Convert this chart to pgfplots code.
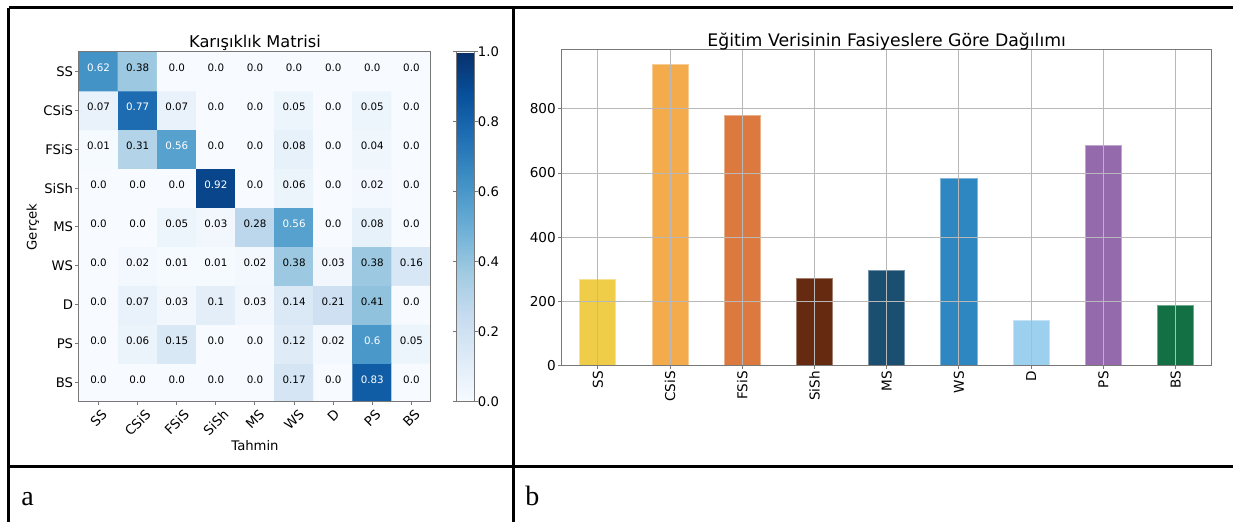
\documentclass[border=0pt]{standalone}
\usepackage{pgfplots}
\pgfplotsset{compat=1.18}
\usepackage{pgfplotstable}
\usepackage{fontspec}
\setmainfont{DejaVu Sans}
\newfontfamily\serifa{Liberation Serif}
\newcommand{\rl}[1]{\rotatebox{45}{#1}}
\newcommand{\rv}[1]{\rotatebox{90}{#1}}
\newcommand{\fs}[1]{\fontsize{#1}{#1}\selectfont}
\definecolor{cSS}{RGB}{240,205,72}
\definecolor{cCSiS}{RGB}{243,171,75}
\definecolor{cFSiS}{RGB}{220,121,62}
\definecolor{cSiSh}{RGB}{102,42,16}
\definecolor{cMS}{RGB}{27,79,114}
\definecolor{cWS}{RGB}{46,135,192}
\definecolor{cD}{RGB}{157,208,238}
\definecolor{cPS}{RGB}{149,106,172}
\definecolor{cBS}{RGB}{19,112,68}
\definecolor{spine}{RGB}{120,120,120}
\pgfplotsset{
  colormap={mblues}{rgb255=(247,251,255) rgb255=(222,235,247) rgb255=(198,219,239) rgb255=(158,202,225) rgb255=(107,174,214) rgb255=(66,146,198) rgb255=(33,113,181) rgb255=(8,81,156) rgb255=(8,48,107)}
}
\pgfplotstableread{
x y c w
0 0 0.0 0
1 0 0.0 0
2 0 0.0 0
3 0 0.0 0
4 0 0.0 0
5 0 0.17 0
6 0 0.0 0
7 0 0.83 1
8 0 0.0 0
0 1 0.0 0
1 1 0.06 0
2 1 0.15 0
3 1 0.0 0
4 1 0.0 0
5 1 0.12 0
6 1 0.02 0
7 1 0.6 1
8 1 0.05 0
0 2 0.0 0
1 2 0.07 0
2 2 0.03 0
3 2 0.1 0
4 2 0.03 0
5 2 0.14 0
6 2 0.21 0
7 2 0.41 0
8 2 0.0 0
0 3 0.0 0
1 3 0.02 0
2 3 0.01 0
3 3 0.01 0
4 3 0.02 0
5 3 0.38 0
6 3 0.03 0
7 3 0.38 0
8 3 0.16 0
0 4 0.0 0
1 4 0.0 0
2 4 0.05 0
3 4 0.03 0
4 4 0.28 0
5 4 0.56 1
6 4 0.0 0
7 4 0.08 0
8 4 0.0 0
0 5 0.0 0
1 5 0.0 0
2 5 0.0 0
3 5 0.92 1
4 5 0.0 0
5 5 0.06 0
6 5 0.0 0
7 5 0.02 0
8 5 0.0 0
0 6 0.01 0
1 6 0.31 0
2 6 0.56 1
3 6 0.0 0
4 6 0.0 0
5 6 0.08 0
6 6 0.0 0
7 6 0.04 0
8 6 0.0 0
0 7 0.07 0
1 7 0.77 1
2 7 0.07 0
3 7 0.0 0
4 7 0.0 0
5 7 0.05 0
6 7 0.0 0
7 7 0.05 0
8 7 0.0 0
0 8 0.62 1
1 8 0.38 0
2 8 0.0 0
3 8 0.0 0
4 8 0.0 0
5 8 0.0 0
6 8 0.0 0
7 8 0.0 0
8 8 0.0 0
}\cmdata
\begin{document}
\begin{tikzpicture}
\path[use as bounding box] (0,0) rectangle (616.5pt,-261pt);
% ---------- heatmap ----------
\begin{axis}[
  at={(39.5pt,-26pt)}, anchor=north west,
  scale only axis, width=176pt, height=175pt,
  xmin=-0.5, xmax=8.5, ymin=-0.5, ymax=8.5,
  colormap name=mblues, point meta min=0, point meta max=1,
  axis line style={spine, line width=0.5pt},
  tick style={spine, line width=0.5pt},
  tick align=outside, major tick length=1.75pt,
  tick pos=left,
  xtick={0,...,8}, ytick={0,...,8},
  xticklabels={\rl{SS},\rl{CSiS},\rl{FSiS},\rl{SiSh},\rl{MS},\rl{WS},\rl{D},\rl{PS},\rl{BS}},
  yticklabels={BS,PS,D,WS,MS,SiSh,FSiS,CSiS,SS},
  xticklabel style={anchor=north, inner sep=0pt, yshift=-1.5pt},
  yticklabel style={anchor=east, inner sep=0pt, xshift=-1pt},
  tick label style={font=\fs{6.6}},
  title={Karışıklık Matrisi},
  title style={font=\fs{8.1}, at={(0.5,1)}, anchor=base, yshift=-4pt},
  xlabel={Tahmin},
  xlabel style={font=\fs{6.6}, at={(axis description cs:0.5,-0.1257)}, anchor=center},
  ylabel={Gerçek},
  ylabel style={font=\fs{6.6}, at={(axis description cs:-0.1307,0.5)}, anchor=center},
  colorbar,
  colorbar style={
    at={(parent axis.north east)}, anchor=north west, xshift=4pt,
    width=9.15pt,
    axis line style={spine, line width=0.5pt},
    tick style={spine, line width=0.5pt},
    tick align=outside, major tick length=1.6pt,
    ytick={0,0.2,0.4,0.6,0.8,1},
    yticklabels={0.0,0.2,0.4,0.6,0.8,1.0},
    yticklabel style={font=\fs{6.6}, anchor=west, inner sep=0pt, xshift=0pt},
  },
  axis on top,
]
\addplot[matrix plot*, mesh/cols=9, point meta=explicit] table[x=x,y=y,meta=c]{\cmdata};
\addplot[only marks, mark=text, text mark={}, mark options={opacity=0},
  point meta=explicit symbolic,
  visualization depends on={\thisrow{w} \as \wf},
  nodes near coords={\ifdim\wf pt>0.5pt\textcolor{white}{\pgfplotspointmeta}\else\pgfplotspointmeta\fi},
  nodes near coords style={anchor=center, font=\fs{5.15}, inner sep=0pt, yshift=1.6pt, opacity=1, text opacity=1}]
  table[x=x,y=y,meta=c]{\cmdata};
\end{axis}
% ---------- bar chart ----------
\begin{axis}[
  at={(280.85pt,-24.65pt)}, anchor=north west,
  scale only axis, width=325pt, height=158pt,
  xmin=-0.5, xmax=8.5, ymin=0, ymax=986,
  axis line style={spine, line width=0.5pt},
  tick style={spine, line width=0.5pt},
  tick align=outside, major tick length=1.75pt,
  tick pos=left,
  xtick={0,...,8},
  xticklabels={\rv{SS},\rv{CSiS},\rv{FSiS},\rv{SiSh},\rv{MS},\rv{WS},\rv{D},\rv{PS},\rv{BS}},
  ytick={0,200,400,600,800},
  yticklabels={0,200,400,600,800},
  xticklabel style={anchor=north, inner sep=0pt, yshift=-1pt},
  yticklabel style={anchor=east, inner sep=0pt, xshift=-1pt},
  tick label style={font=\fs{6.8}},
  grid=major, grid style={black!28, line width=0.5pt},
  title={Eğitim Verisinin Fasiyeslere Göre Dağılımı},
  title style={font=\fs{8.65}, at={(0.5,1)}, anchor=base, yshift=-4.6pt},
  axis on top,
]
\addplot[ybar, bar width=0.5, bar shift=0pt, fill=cSS, draw=cSS!60!white, line width=0.4pt] coordinates {(0,267)};
\addplot[ybar, bar width=0.5, bar shift=0pt, fill=cCSiS, draw=cCSiS!60!white, line width=0.4pt] coordinates {(1,939)};
\addplot[ybar, bar width=0.5, bar shift=0pt, fill=cFSiS, draw=cFSiS!60!white, line width=0.4pt] coordinates {(2,779)};
\addplot[ybar, bar width=0.5, bar shift=0pt, fill=cSiSh, draw=cSiSh!60!white, line width=0.4pt] coordinates {(3,272)};
\addplot[ybar, bar width=0.5, bar shift=0pt, fill=cMS, draw=cMS!60!white, line width=0.4pt] coordinates {(4,297)};
\addplot[ybar, bar width=0.5, bar shift=0pt, fill=cWS, draw=cWS!60!white, line width=0.4pt] coordinates {(5,582)};
\addplot[ybar, bar width=0.5, bar shift=0pt, fill=cD, draw=cD!60!white, line width=0.4pt] coordinates {(6,141)};
\addplot[ybar, bar width=0.5, bar shift=0pt, fill=cPS, draw=cPS!60!white, line width=0.4pt] coordinates {(7,686)};
\addplot[ybar, bar width=0.5, bar shift=0pt, fill=cBS, draw=cBS!60!white, line width=0.4pt] coordinates {(8,186)};
\end{axis}
% ---------- table frame ----------
\draw[line width=1.5pt] (4.3pt,-4pt) -- (616.5pt,-4pt);
\draw[line width=1.5pt] (4.3pt,-4pt) -- (4.3pt,-261pt);
\draw[line width=1.5pt] (256.75pt,-4pt) -- (256.75pt,-261pt);
\draw[line width=1.5pt] (4.3pt,-233.25pt) -- (616.5pt,-233.25pt);
\node[anchor=base west, inner sep=0pt, font=\serifa\fs{14}] at (10.5pt,-253pt) {a};
\node[anchor=base west, inner sep=0pt, font=\serifa\fs{14}] at (262.5pt,-253pt) {b};
\end{tikzpicture}
\end{document}
